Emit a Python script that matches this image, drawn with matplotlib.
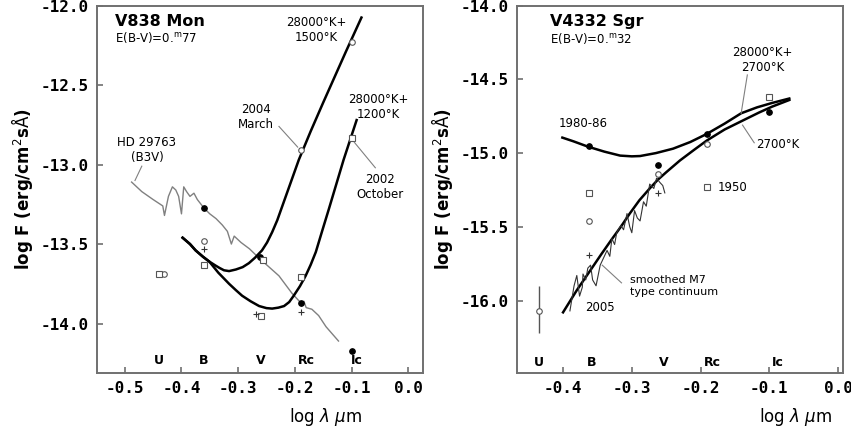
import numpy as np
import matplotlib.pyplot as plt

# ---- V838 Mon (left panel) ----
hd_x = [-0.488, -0.470, -0.450, -0.433, -0.430, -0.423, -0.416, -0.410, -0.405, -0.400,
        -0.396, -0.391, -0.385, -0.378, -0.372, -0.360, -0.350, -0.339, -0.328, -0.319,
        -0.312, -0.307, -0.304, -0.295, -0.280, -0.267, -0.250, -0.228, -0.205, -0.192,
        -0.188, -0.184, -0.180, -0.170, -0.158, -0.145, -0.123]
hd_y = [-13.11, -13.17, -13.22, -13.26, -13.32, -13.20, -13.14, -13.16, -13.20, -13.31,
        -13.14, -13.17, -13.20, -13.18, -13.22, -13.275, -13.31, -13.34, -13.38, -13.42,
        -13.50, -13.45, -13.46, -13.49, -13.53, -13.575, -13.63, -13.70, -13.81, -13.86,
        -13.89, -13.86, -13.90, -13.91, -13.95, -14.02, -14.11]

c1500_x = [-0.398, -0.385, -0.375, -0.362, -0.351, -0.340, -0.333, -0.325, -0.316, -0.304,
           -0.292, -0.281, -0.270, -0.258, -0.249, -0.240, -0.231, -0.223, -0.208, -0.193,
           -0.172, -0.150, -0.130, -0.110, -0.0825]
c1500_y = [-13.46, -13.50, -13.54, -13.58, -13.61, -13.635, -13.65, -13.665, -13.67, -13.66,
           -13.645, -13.62, -13.585, -13.54, -13.49, -13.425, -13.35, -13.27, -13.12, -12.97,
           -12.79, -12.61, -12.45, -12.29, -12.075]

c1200_x = [-0.398, -0.385, -0.375, -0.362, -0.351, -0.335, -0.316, -0.304, -0.293, -0.278,
           -0.263, -0.250, -0.240, -0.229, -0.219, -0.210, -0.202, -0.191, -0.181, -0.172,
           -0.163, -0.152, -0.140, -0.127, -0.114, -0.091]
c1200_y = [-13.46, -13.50, -13.54, -13.58, -13.61, -13.68, -13.75, -13.79, -13.825, -13.86,
           -13.89, -13.903, -13.906, -13.90, -13.89, -13.865, -13.825, -13.765, -13.70, -13.63,
           -13.55, -13.42, -13.28, -13.125, -12.97, -12.72]

L_filled_x = [-0.36, -0.262, -0.19, -0.10]
L_filled_y = [-13.27, -13.58, -13.87, -14.17]
L_circle_x = [-0.36, -0.43, -0.19, -0.10]
L_circle_y = [-13.48, -13.69, -12.91, -12.23]
L_square_x = [-0.36, -0.44, -0.256, -0.26, -0.19, -0.10]
L_square_y = [-13.63, -13.69, -13.60, -13.95, -13.71, -12.83]
L_plus_x = [-0.36, -0.268, -0.19]
L_plus_y = [-13.53, -13.94, -13.93]

# ---- V4332 Sgr (right panel) ----
c1980_x = [-0.401, -0.385, -0.364, -0.340, -0.317, -0.300, -0.288, -0.265, -0.240, -0.215,
           -0.191, -0.165, -0.141, -0.118, -0.096, -0.071]
c1980_y = [-14.895, -14.92, -14.956, -14.99, -15.017, -15.022, -15.02, -15.00, -14.97, -14.925,
           -14.87, -14.80, -14.73, -14.69, -14.66, -14.63]

c2700_x = [-0.400, -0.380, -0.361, -0.345, -0.330, -0.316, -0.303, -0.289, -0.274, -0.262,
           -0.250, -0.230, -0.210, -0.191, -0.165, -0.139, -0.115, -0.096, -0.071]
c2700_y = [-16.08, -15.93, -15.80, -15.69, -15.59, -15.50, -15.41, -15.32, -15.24, -15.18,
           -15.13, -15.05, -14.98, -14.915, -14.84, -14.78, -14.725, -14.685, -14.64]

m7_x = [-0.390, -0.384, -0.380, -0.376, -0.372, -0.371, -0.367, -0.364, -0.360, -0.357,
        -0.352, -0.346, -0.342, -0.336, -0.332, -0.329, -0.325, -0.322, -0.316, -0.312,
        -0.307, -0.303, -0.300, -0.296, -0.292, -0.288, -0.283, -0.279, -0.274, -0.268,
        -0.264, -0.259, -0.255, -0.252]
m7_y = [-16.07, -15.90, -15.83, -15.97, -15.91, -15.82, -15.86, -15.78, -15.76, -15.86,
        -15.90, -15.76, -15.72, -15.66, -15.70, -15.58, -15.62, -15.54, -15.49, -15.52,
        -15.41, -15.50, -15.54, -15.39, -15.44, -15.46, -15.33, -15.36, -15.21, -15.24,
        -15.17, -15.20, -15.22, -15.27]

R_filled_x = [-0.362, -0.262, -0.191, -0.101]
R_filled_y = [-14.95, -15.08, -14.87, -14.72]
R_circle_x = [-0.362, -0.262, -0.191]
R_circle_y = [-15.46, -15.14, -14.94]
R_square_x = [-0.362, -0.191, -0.101]
R_square_y = [-15.27, -15.23, -14.62]
R_plus_x = [-0.362, -0.262]
R_plus_y = [-15.69, -15.27]
U_x, U_y, U_lo, U_hi = -0.435, -16.07, -16.22, -15.90

bands = ['U', 'B', 'V', 'Rc', 'Ic']
bands_x_left = [-0.439, -0.361, -0.260, -0.179, -0.091]
bands_x_right = [-0.435, -0.358, -0.254, -0.183, -0.088]

fig = plt.figure(figsize=(8.51, 4.33), dpi=100)
ax1 = fig.add_axes([0.114, 0.139, 0.383, 0.848])
ax2 = fig.add_axes([0.6075, 0.139, 0.383, 0.848])

tickfont = dict(family='DejaVu Sans Mono', size=11.5, weight='bold')
for ax, lx in ((ax1, 0.70), (ax2, 0.856)):
    for s in ax.spines.values():
        s.set_color('#707070')
        s.set_linewidth(1.4)
    ax.tick_params(direction='in', length=4, width=1.2, color='#707070', pad=6)
    ax.set_xlabel('log $\\lambda$ $\\mu$m', fontsize=12)
    ax.xaxis.set_label_coords(lx, -0.09)
    ax.set_ylabel('log F (erg/cm$^2$s$\\mathrm{\\AA}$)', fontsize=12, fontweight='bold')

mk = dict(ms=4, mew=0.8, ls='none')
ann = 8.5
gray = '#808080'

# left panel
ax1.plot(hd_x, hd_y, color=gray, lw=1.0)
ax1.plot(c1500_x, c1500_y, color='black', lw=1.8)
ax1.plot(c1200_x, c1200_y, color='black', lw=1.8)
ax1.plot(L_filled_x, L_filled_y, 'o', color='black', **mk)
ax1.plot(L_circle_x, L_circle_y, 'o', mfc='white', mec='#555555', **mk)
ax1.plot(L_square_x, L_square_y, 's', mfc='white', mec='#555555', **mk)
ax1.plot(L_plus_x, L_plus_y, '+', color='#333333', ms=4, mew=0.8, ls='none')
ax1.set_xlim(-0.549, 0.026)
ax1.set_ylim(-14.31, -12.0)
ax1.set_xticks([-0.5, -0.4, -0.3, -0.2, -0.1, 0.0])
ax1.set_xticklabels(['-0.5', '-0.4', '-0.3', '-0.2', '-0.1', '0.0'], **tickfont)
ax1.set_yticks([-12.0, -12.5, -13.0, -13.5, -14.0])
ax1.set_yticklabels(['-12.0', '-12.5', '-13.0', '-13.5', '-14.0'], **tickfont)

ax1.text(-0.5175, -12.10, 'V838 Mon', fontsize=11.5, fontweight='bold', va='center')
ax1.text(-0.5175, -12.20, 'E(B-V)=0.$^{\\rm m}$77', fontsize=8.5, va='center')
ax1.text(-0.163, -12.156, '28000°K+\n1500°K', fontsize=ann, ha='center', va='center')
ax1.text(-0.053, -12.64, '28000°K+\n1200°K', fontsize=ann, ha='center', va='center')
ax1.text(-0.268, -12.70, '2004\nMarch', fontsize=ann, ha='center', va='center')
ax1.plot([-0.228, -0.195], [-12.76, -12.89], color=gray, lw=0.8)
ax1.text(-0.461, -12.906, 'HD 29763\n(B3V)', fontsize=ann, ha='center', va='center')
ax1.plot([-0.47, -0.482], [-13.01, -13.10], color=gray, lw=0.8)
ax1.text(-0.049, -13.14, '2002\nOctober', fontsize=ann, ha='center', va='center')
ax1.plot([-0.058, -0.095], [-13.02, -12.86], color=gray, lw=0.8)
for b, bx in zip(bands, bands_x_left):
    ax1.text(bx, -14.23, b, fontsize=9, fontweight='bold', ha='center', va='center')

# right panel
ax2.plot(c1980_x, c1980_y, color='black', lw=1.8)
ax2.plot(c2700_x, c2700_y, color='black', lw=1.8)
ax2.plot(m7_x, m7_y, color='#333333', lw=0.8)
ax2.plot(R_filled_x, R_filled_y, 'o', color='black', **mk)
ax2.plot(R_circle_x, R_circle_y, 'o', mfc='white', mec='#555555', **mk)
ax2.plot(R_square_x, R_square_y, 's', mfc='white', mec='#555555', **mk)
ax2.plot(R_plus_x, R_plus_y, '+', color='#333333', ms=4, mew=0.8, ls='none')
ax2.errorbar([U_x], [U_y], yerr=[[U_y - U_lo], [U_hi - U_y]], fmt='o', mfc='white',
             mec='#555555', ecolor='#555555', ms=4, mew=0.8, elinewidth=1.0)
ax2.set_xlim(-0.467, 0.007)
ax2.set_ylim(-16.49, -14.0)
ax2.set_xticks([-0.4, -0.3, -0.2, -0.1, 0.0])
ax2.set_xticklabels(['-0.4', '-0.3', '-0.2', '-0.1', '0.0'], **tickfont)
ax2.set_yticks([-14.0, -14.5, -15.0, -15.5, -16.0])
ax2.set_yticklabels(['-14.0', '-14.5', '-15.0', '-15.5', '-16.0'], **tickfont)

ax2.text(-0.419, -14.11, 'V4332 Sgr', fontsize=11.5, fontweight='bold', va='center')
ax2.text(-0.419, -14.22, 'E(B-V)=0.$^{\\rm m}$32', fontsize=8.5, va='center')
ax2.text(-0.407, -14.80, '1980-86', fontsize=ann, va='center')
ax2.text(-0.11, -14.37, '28000°K+\n2700°K', fontsize=ann, ha='center', va='center')
ax2.plot([-0.132, -0.141], [-14.47, -14.73], color=gray, lw=0.8)
ax2.text(-0.119, -14.94, '2700°K', fontsize=ann, va='center')
ax2.plot([-0.122, -0.139], [-14.93, -14.81], color=gray, lw=0.8)
ax2.text(-0.175, -15.23, '1950', fontsize=ann, va='center')
ax2.text(-0.303, -15.90, 'smoothed M7\ntype continuum', fontsize=8, va='center')
ax2.plot([-0.315, -0.343], [-15.88, -15.76], color=gray, lw=0.8)
ax2.text(-0.368, -16.05, '2005', fontsize=ann, va='center')
for b, bx in zip(bands, bands_x_right):
    ax2.text(bx, -16.42, b, fontsize=9, fontweight='bold', ha='center', va='center')

fig.savefig('out.png', dpi=100)
